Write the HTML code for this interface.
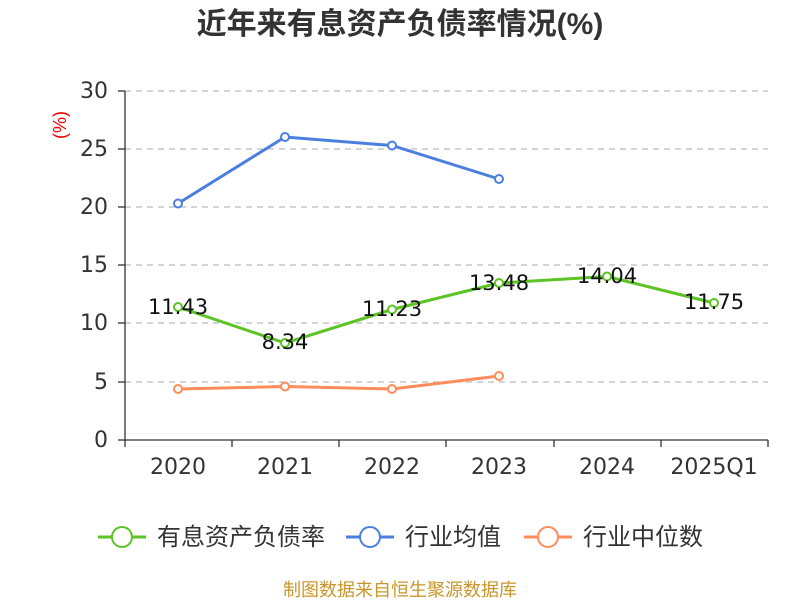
<!DOCTYPE html>
<html><head><meta charset="utf-8"><style>
body{margin:0;background:#fff;}
</style></head><body>
<svg width="800" height="600" xmlns="http://www.w3.org/2000/svg" font-family="'Liberation Sans','Noto Sans CJK SC',sans-serif">
<rect width="800" height="600" fill="#fff"/>
<text x="400" y="34" text-anchor="middle" font-size="30" font-weight="bold" fill="#333">近年来有息资产负债率情况(%)</text>
<text x="66" y="125" font-size="18" fill="#e00" text-anchor="middle" transform="rotate(-90 66 125)">(%)</text>
<g stroke="#bbb" stroke-dasharray="6,5" stroke-width="1.2">
<line x1="125" x2="768" y1="91" y2="91"/><line x1="125" x2="768" y1="149" y2="149"/>
<line x1="125" x2="768" y1="207" y2="207"/><line x1="125" x2="768" y1="265" y2="265"/>
<line x1="125" x2="768" y1="323" y2="323"/><line x1="125" x2="768" y1="382" y2="382"/>
</g>
<g stroke="#333" stroke-width="1.3">
<line x1="125" x2="125" y1="91" y2="440"/><line x1="125" x2="768" y1="440" y2="440"/>
<line x1="118" x2="125" y1="91" y2="91"/><line x1="118" x2="125" y1="149" y2="149"/><line x1="118" x2="125" y1="207" y2="207"/><line x1="118" x2="125" y1="265" y2="265"/><line x1="118" x2="125" y1="323" y2="323"/><line x1="118" x2="125" y1="382" y2="382"/><line x1="118" x2="125" y1="440" y2="440"/>
<line x1="125" x2="125" y1="440" y2="447"/><line x1="232" x2="232" y1="440" y2="447"/><line x1="339" x2="339" y1="440" y2="447"/><line x1="446" x2="446" y1="440" y2="447"/><line x1="554" x2="554" y1="440" y2="447"/><line x1="661" x2="661" y1="440" y2="447"/><line x1="768" x2="768" y1="440" y2="447"/>
</g>
<g font-size="22" fill="#333" text-anchor="end" font-family="'DejaVu Sans',sans-serif">
<text x="108" y="98">30</text><text x="108" y="156">25</text><text x="108" y="214">20</text><text x="108" y="272">15</text><text x="108" y="330">10</text><text x="108" y="389">5</text><text x="108" y="447">0</text>
</g>
<g font-size="22" fill="#333" text-anchor="middle" font-family="'DejaVu Sans',sans-serif">
<text x="178" y="474">2020</text><text x="285" y="474">2021</text><text x="392" y="474">2022</text><text x="499" y="474">2023</text><text x="607" y="474">2024</text><text x="714" y="474">2025Q1</text>
</g>
<polyline fill="none" stroke="#4a7fe0" stroke-width="3" points="178,203.5 285,137 392,145.5 499,179"/>
<g fill="#fff" stroke="#4a7fe0" stroke-width="2"><circle cx="178" cy="203.5" r="4"/><circle cx="285" cy="137" r="4"/><circle cx="392" cy="145.5" r="4"/><circle cx="499" cy="179" r="4"/></g>
<polyline fill="none" stroke="#ff8c5a" stroke-width="3" points="178,389 285,386.5 392,389 499,376"/>
<g fill="#fff" stroke="#ff8c5a" stroke-width="2"><circle cx="178" cy="389" r="4"/><circle cx="285" cy="386.5" r="4"/><circle cx="392" cy="389" r="4"/><circle cx="499" cy="376" r="4"/></g>
<polyline fill="none" stroke="#5cc425" stroke-width="3" points="178,307 285,343 392,309.5 499,283 607,276.5 714,303"/>
<g fill="#fff" stroke="#5cc425" stroke-width="2"><circle cx="178" cy="307" r="4"/><circle cx="285" cy="343" r="4"/><circle cx="392" cy="309.5" r="4"/><circle cx="499" cy="283" r="4"/><circle cx="607" cy="276.5" r="4"/><circle cx="714" cy="303" r="4"/></g>
<g font-size="21" fill="#111" text-anchor="middle" font-family="'DejaVu Sans',sans-serif">
<text x="178" y="314">11.43</text><text x="285" y="349">8.34</text><text x="392" y="316">11.23</text><text x="499" y="290">13.48</text><text x="607" y="283">14.04</text><text x="714" y="309">11.75</text>
</g>
<g font-size="24" fill="#333">
<line x1="98" x2="146" y1="537" y2="537" stroke="#5cc425" stroke-width="3"/><circle cx="122" cy="537" r="10" fill="#fff" stroke="#5cc425" stroke-width="2"/><text x="157" y="545">有息资产负债率</text>
<line x1="346" x2="394" y1="537" y2="537" stroke="#4a7fe0" stroke-width="3"/><circle cx="370" cy="537" r="10" fill="#fff" stroke="#4a7fe0" stroke-width="2"/><text x="405" y="545">行业均值</text>
<line x1="524" x2="572" y1="537" y2="537" stroke="#ff8c5a" stroke-width="3"/><circle cx="548" cy="537" r="10" fill="#fff" stroke="#ff8c5a" stroke-width="2"/><text x="583" y="545">行业中位数</text>
</g>
<text x="400" y="596" text-anchor="middle" font-size="18" fill="#c8962a">制图数据来自恒生聚源数据库</text>
</svg>
</body></html>
